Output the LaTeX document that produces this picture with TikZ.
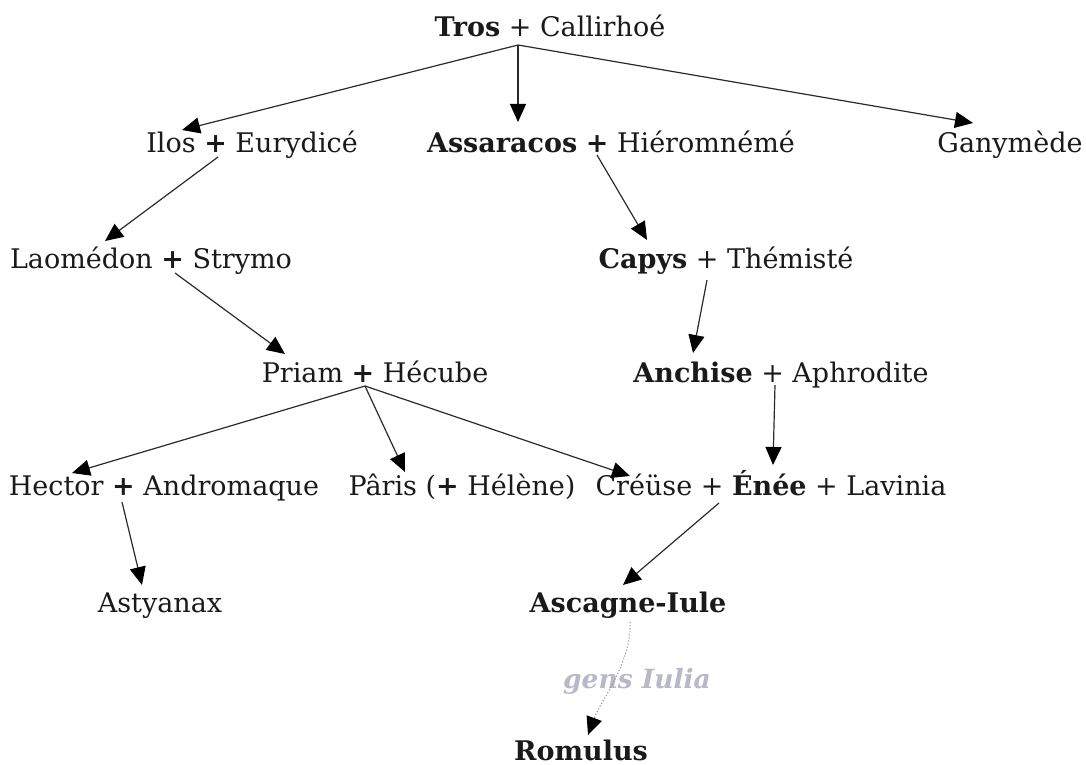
\documentclass[tikz,border=0pt]{standalone}
\usepackage{fontspec}
\setmainfont{DejaVu Serif}
\usetikzlibrary{arrows.meta}
\definecolor{txt}{HTML}{1A1A1A}
\definecolor{ln}{HTML}{2A2A2A}
\definecolor{gensc}{HTML}{B8B8C8}
\tikzset{
  lbl/.style={anchor=base, inner sep=0pt, text=txt, font=\fontsize{27}{30}\selectfont},
  gensl/.style={anchor=base, inner sep=0pt, text=gensc, font=\fontsize{26.5}{30}\selectfont\bfseries\itshape},
  arr/.style={draw=ln, line width=1.2pt, -{Triangle[length=18pt,width=16pt,color=black]}},
  dotarr/.style={draw=gensc!80!black, line width=1.1pt, dotted, -{Triangle[length=18pt,width=16pt,color=black]}}
}
\begin{document}
\begin{tikzpicture}[x=1pt,y=-1pt]
\useasboundingbox (0,0) rectangle (1086,765);
\node[lbl] (tros) at (550,37) {\textbf{Tros} + Callirhoé};
\node[lbl] (ilos) at (252,152) {Ilos \textbf{+} Eurydicé};
\node[lbl] (assa) at (611,152) {\textbf{Assaracos} \textbf{+} Hiéromnémé};
\node[lbl] (gany) at (1010,152) {Ganymède};
\node[lbl] (laom) at (151,268) {Laomédon \textbf{+} Strymo};
\node[lbl] (capys) at (726,268) {\textbf{Capys} + Thémisté};
\node[lbl] (priam) at (375,382) {Priam \textbf{+} Hécube};
\node[lbl] (anch) at (781,382) {\textbf{Anchise} + Aphrodite};
\node[lbl] (hect) at (164,495) {Hector \textbf{+} Andromaque};
\node[lbl] (paris) at (462,495) {Pâris (\textbf{+} Hélène)};
\node[lbl] (enee) at (771,495) {Créüse + \textbf{Énée} + Lavinia};
\node[lbl] (asty) at (160,612) {Astyanax};
\node[lbl] (asca) at (628,612) {\textbf{Ascagne-Iule}};
\node[gensl] (gens) at (637,688) {gens Iulia};
\node[lbl] (romu) at (581,760) {\textbf{Romulus}};
% connectors
\draw[arr] ([shift={(-32,8)}]tros.base) -- ([shift={(-70,-22)}]ilos.base);
\draw[arr] ([shift={(-32,8)}]tros.base) -- ([shift={(-93,-30)}]assa.base);
\draw[arr] ([shift={(-32,8)}]tros.base) -- ([shift={(-37,-29)}]gany.base);
\draw[arr] ([shift={(-34,5)}]ilos.base) -- ([shift={(-46,-27)}]laom.base);
\draw[arr] ([shift={(24,5)}]laom.base) -- ([shift={(-90,-28)}]priam.base);
\draw[arr] ([shift={(-14,3)}]assa.base) -- ([shift={(-79,-28)}]capys.base);
\draw[arr] ([shift={(-19,12)}]capys.base) -- ([shift={(-88,-29)}]anch.base);
\draw[arr] ([shift={(-10,4)}]priam.base) -- ([shift={(-92,-22)}]hect.base);
\draw[arr] ([shift={(-10,4)}]priam.base) -- ([shift={(-57,-23)}]paris.base);
\draw[arr] ([shift={(-10,4)}]priam.base) -- ([shift={(-141,-19)}]enee.base);
\draw[arr] ([shift={(-6,3)}]anch.base) -- ([shift={(2,-30)}]enee.base);
\draw[arr] ([shift={(-52,8)}]enee.base) -- ([shift={(-5,-27)}]asca.base);
\draw[arr] ([shift={(-42,7)}]hect.base) -- ([shift={(-18,-27)}]asty.base);
\draw[dotarr] ([shift={(2,10)}]asca.base) .. controls ([shift={(4,50)}]asca.base) and ([shift={(20,-60)}]romu.base) .. ([shift={(7,-25)}]romu.base);
\end{tikzpicture}
\end{document}
